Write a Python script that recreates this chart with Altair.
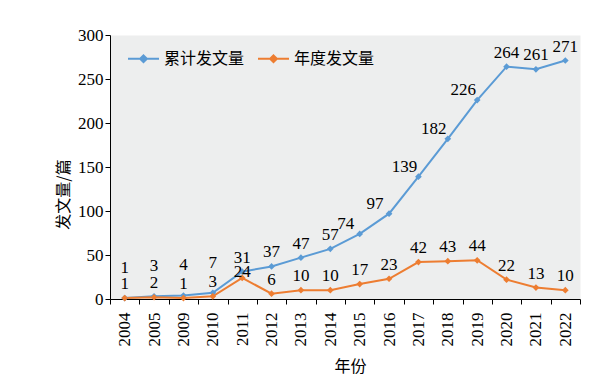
import altair as alt
import pandas as pd

years = ["2004", "2005", "2009", "2010", "2011", "2012", "2013", "2014",
         "2015", "2016", "2017", "2018", "2019", "2020", "2021", "2022"]
cumulative = [1, 3, 4, 7, 31, 37, 47, 57, 74, 97, 139, 182, 226, 264, 261, 271]
annual = [1, 2, 1, 3, 24, 6, 10, 10, 17, 23, 42, 43, 44, 22, 13, 10]
series_names = ["累计发文量", "年度发文量"]
colors = ["#5B9BD5", "#ED7D31"]

rows = []
for y, c, a in zip(years, cumulative, annual):
    rows.append({"year": y, "series": series_names[0], "value": c})
    rows.append({"year": y, "series": series_names[1], "value": a})
df = pd.DataFrame(rows)

CJK = "Noto Sans CJK SC"
SERIF = "Times New Roman, Liberation Serif, DejaVu Serif, serif"

x_enc = alt.X(
    "year:O", sort=years, bandPosition=0.5,
    scale=alt.Scale(type="band", paddingInner=0, paddingOuter=0),
    axis=alt.Axis(title="年份", labelAngle=270, labelAlign="right", labelBaseline="middle",
                  labelFont=SERIF, labelFontSize=17, labelPadding=8, tickBand="extent",
                  titleFont=CJK, titleFontSize=16, titleFontWeight="normal", titlePadding=12,
                  titleX=240),
)
y_enc = alt.Y(
    "value:Q", scale=alt.Scale(domain=[0, 300], nice=False),
    axis=alt.Axis(title="发文量/篇", values=[0, 50, 100, 150, 200, 250, 300], grid=False,
                  labelFont=SERIF, labelFontSize=17, labelPadding=2,
                  titleFont=CJK, titleFontSize=16, titleFontWeight="normal",
                  titleBaseline="middle", titleX=-47, titleY=159),
)
color_enc = alt.Color(
    "series:N",
    scale=alt.Scale(domain=series_names, range=colors),
    legend=alt.Legend(
        title=None, orient="none", legendX=17, legendY=7, direction="horizontal",
        symbolType="M-1,0L1,0M0,-0.22L0.22,0L0,0.22L-0.22,0Z",
        symbolSize=961, symbolStrokeWidth=2, labelFont=CJK, labelFontSize=16,
        labelOffset=4, columnPadding=9,
    ),
)

base = alt.Chart(df).encode(x=x_enc, y=y_enc)

lines = base.mark_line(strokeWidth=2).encode(color=color_enc)
points = base.mark_point(shape="diamond", size=45, filled=True, opacity=1).encode(
    color=alt.Color("series:N", scale=alt.Scale(domain=series_names, range=colors), legend=None)
)

def lbl(series, yrs, dx, dy):
    return base.mark_text(font=SERIF, fontSize=17, color="black", dx=dx, dy=dy,
                          baseline="middle", align="center").encode(
        text="value:Q"
    ).transform_filter(
        alt.FieldEqualPredicate(field="series", equal=series)
    ).transform_filter(
        alt.FieldOneOfPredicate(field="year", oneOf=yrs)
    )

blue_a = lbl(series_names[0], ["2004", "2005", "2009", "2010"], 0, -30)
blue_b = lbl(series_names[0], ["2011", "2012", "2013", "2014", "2020", "2021", "2022"], 0, -14)
blue_c = lbl(series_names[0], ["2015", "2016", "2017", "2018", "2019"], -14, -10)
orange_a = lbl(series_names[1], [y for y in years if y != "2011"], 0, -14)
orange_b = lbl(series_names[1], ["2011"], 0, -6)

chart = alt.layer(lines, points, blue_a, blue_b, blue_c, orange_a, orange_b).properties(
    width=470, height=264,
    autosize=alt.AutoSizeParams(type="none"),
    padding={"left": 102, "top": 27, "right": 20, "bottom": 80},
).configure_view(
    fill="#EDEEEE", stroke="transparent"
).configure_axis(
    domainColor="black", tickColor="black", labelColor="black", titleColor="black",
    tickSize=5, domainWidth=1, tickWidth=1,
)

chart.save("out.html", embed_options={"renderer": "svg", "actions": False})
